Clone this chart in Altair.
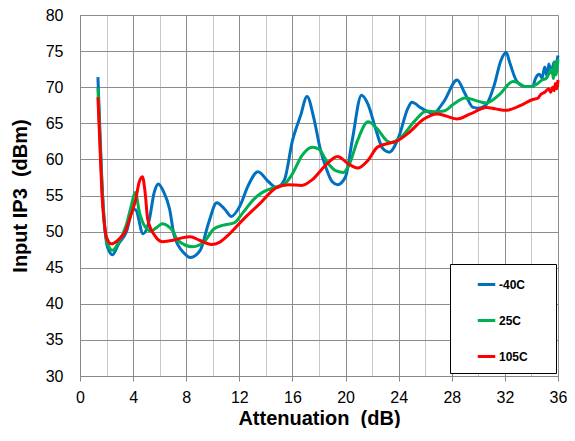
import altair as alt
import pandas as pd

series_names = ["-40C", "25C", "105C"]
series_colors = ["#0070C0", "#00B050", "#FF0000"]

x_m40 = [1.35, 1.5, 1.65, 1.85, 2.05, 2.45, 2.9, 3.5, 4.0, 4.2, 4.75, 5.2, 5.6, 5.9, 6.3, 6.75,
         7.1, 7.85, 8.3, 9.05, 9.7, 10.3, 10.9, 11.4, 12.0, 12.7, 13.4, 14.2, 14.8, 15.4, 16.0,
         16.6, 17.1, 17.6, 18.1, 18.5, 19.0, 19.4, 20.0, 20.5, 21.2, 21.7, 22.3, 22.8, 23.3,
         24.0, 24.7, 25.0, 25.7, 26.6, 27.4, 28.4, 29.0, 29.6, 30.0, 30.6, 31.2, 31.7, 32.1,
         32.4, 32.9, 33.5, 34.1, 34.3, 34.6, 34.8, 35.0, 35.2, 35.3, 35.5, 35.7, 35.8, 36.0]
y_m40 = [71.4, 64.0, 57.0, 51.0, 48.0, 46.8, 48.3, 50.0, 53.1, 53.0, 49.7, 51.5, 55.5, 56.6, 55.5, 53.1,
         49.4, 47.0, 46.4, 47.4, 51.3, 54.0, 53.1, 52.1, 53.4, 56.5, 58.3, 56.9, 56.1, 57.2, 62.6,
         66.0, 68.7, 65.8, 61.4, 59.0, 56.9, 56.5, 57.6, 62.6, 68.9, 67.6, 64.0, 61.5, 61.0,
         63.1, 67.1, 67.9, 67.1, 66.4, 68.0, 71.0, 69.1, 67.2, 67.1, 67.6, 70.3, 73.7, 74.8,
         73.2, 70.8, 70.1, 70.1, 71.2, 71.8, 71.3, 72.8, 71.4, 73.2, 72.0, 73.5, 73.0, 74.4]

x_25 = [1.35, 1.5, 1.65, 1.85, 2.05, 2.45, 2.9, 3.5, 3.85, 4.15, 4.5, 4.9, 5.35, 5.8, 6.2, 6.6,
        7.0, 7.35, 8.5, 9.35, 10.1, 10.8, 11.6, 12.3, 13.1, 13.8, 14.8, 15.4, 16.0, 16.7, 17.5,
        18.0, 18.7, 19.3, 19.85, 20.3, 20.9, 21.7, 22.4, 23.1, 23.4, 24.2, 25.2, 26.1, 26.8,
        27.4, 28.1, 29.0, 30.1, 30.6, 31.6, 32.6, 33.0, 33.5, 34.0, 34.4, 34.8, 35.1, 35.3,
        35.55, 35.65, 35.75, 35.85, 35.95, 36.0]
y_25 = [69.9, 63.0, 56.5, 50.8, 48.5, 47.4, 48.5, 51.0, 53.5, 55.4, 52.5, 50.7, 50.1, 50.6, 51.1, 50.8,
        50.1, 48.8, 47.9, 48.6, 50.4, 50.9, 51.2, 52.7, 54.5, 55.5, 56.2, 56.6, 58.0, 60.5, 61.7,
        61.4, 59.4, 58.4, 58.2, 59.4, 62.6, 65.2, 64.2, 62.6, 62.3, 63.1, 65.3, 66.7, 66.6,
        66.7, 67.6, 68.5, 68.0, 67.8, 69.0, 70.8, 70.6, 70.1, 70.1, 70.4, 71.0, 71.2, 71.8,
        72.5, 71.2, 73.5, 71.7, 73.0, 73.9]

x_105 = [1.35, 1.5, 1.65, 1.85, 2.0, 2.35, 2.9, 3.4, 3.8, 4.2, 4.45, 4.7, 4.9, 5.1, 5.65, 6.2,
         7.0, 7.6, 8.3, 9.0, 9.9, 10.5, 11.1, 12.3, 13.5, 14.8, 15.7, 16.7, 17.5, 18.5, 19.4,
         20.2, 20.9, 21.7, 22.4, 23.4, 23.8, 24.7, 25.9, 26.9, 27.6, 28.4, 29.4, 30.6, 31.3,
         32.1, 33.1, 34.1, 34.5, 34.7, 35.0, 35.3, 35.45, 35.6, 35.7, 35.8, 35.9, 36.0]
y_105 = [68.6, 62.0, 55.4, 50.8, 49.2, 48.3, 48.9, 50.0, 52.1, 54.5, 56.8, 57.6, 55.5, 51.7, 49.4, 48.6,
         48.8, 49.1, 49.3, 48.8, 48.2, 48.5, 49.4, 51.7, 53.8, 56.1, 56.5, 56.4, 57.2, 59.2, 60.4,
         59.4, 58.8, 59.9, 61.7, 62.3, 62.5, 63.6, 65.6, 66.3, 66.0, 65.6, 66.3, 67.2, 67.0,
         66.8, 67.4, 68.3, 68.5, 69.0, 69.3, 69.8, 69.3, 70.0, 69.5, 70.5, 69.8, 71.0]

rows = []
for name, xs, ys in [("-40C", x_m40, y_m40), ("25C", x_25, y_25), ("105C", x_105, y_105)]:
    for xv, yv in zip(xs, ys):
        rows.append({"att": xv, "ip3": yv, "temp": name})
df = pd.DataFrame(rows)

FONT = "Liberation Sans"

x_axis = alt.Axis(
    values=list(range(0, 37, 2)),
    labelExpr="datum.value % 4 === 0 ? datum.label : ''",
    labelFlush=False,
    title="Attenuation\u00a0 (dB)",
    titleFont=FONT, titleFontSize=20, titleFontWeight="bold", titleColor="black",
    titlePadding=3,
    labelFont=FONT, labelFontSize=16, labelColor="black", labelPadding=8,
    tickSize=5, tickColor="#888888",
    tickOpacity={"condition": {"test": "datum.value % 4 === 0", "value": 1}, "value": 0},
    domainColor="#888888", domainWidth=1,
    grid=True,
    gridColor={"condition": {"test": "datum.value % 4 === 0", "value": "#8c8c8c"}, "value": "#c8c8c8"},
    gridWidth=1,
)

y_axis = alt.Axis(
    values=list(range(30, 81, 5)),
    labelFlush=False,
    title="Input IP3\u00a0 (dBm)",
    titleFont=FONT, titleFontSize=20, titleFontWeight="bold", titleColor="black",
    titlePadding=15,
    labelFont=FONT, labelFontSize=16, labelColor="black", labelPadding=17,
    ticks=False,
    domainColor="#888888", domainWidth=1,
    grid=True, gridColor="#8c8c8c", gridWidth=1,
)

legend = alt.Legend(
    orient="none", legendX=370, legendY=249,
    title=None,
    strokeColor="black", fillColor="white", padding=10,
    rowPadding=19,
    symbolType="stroke", symbolSize=306, symbolStrokeWidth=3, symbolOffset=16,
    labelFont=FONT, labelFontSize=12, labelFontWeight="bold", labelColor="black",
    labelOffset=2,
    labelExpr="datum.label + '\u2800\u2800'",
)

chart = alt.Chart(df).mark_line(interpolate="monotone", strokeWidth=3).encode(
    x=alt.X("att:Q", scale=alt.Scale(domain=[0, 36], nice=False, zero=False), axis=x_axis),
    y=alt.Y("ip3:Q", scale=alt.Scale(domain=[30, 80], nice=False, zero=False), axis=y_axis),
    color=alt.Color("temp:N", sort=series_names,
                    scale=alt.Scale(domain=series_names, range=series_colors),
                    legend=legend),
).properties(
    width=478, height=361,
    autosize=alt.AutoSizeParams(type="none"),
    padding={"left": 72, "top": 7, "right": 9, "bottom": 52},
).configure_view(stroke=None).configure(background="white")

chart.save("out.html", embed_options={"renderer": "svg", "actions": False})
